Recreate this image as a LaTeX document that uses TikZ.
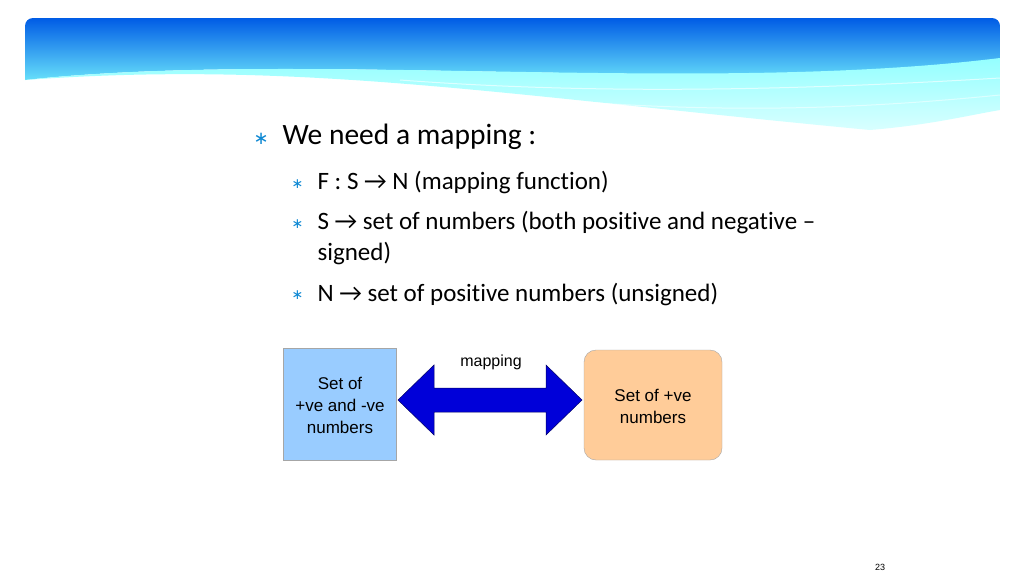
\documentclass[tikz,border=0pt]{standalone}
\usepackage{fontspec}
\setmainfont[Ligatures=NoCommon]{Carlito}
\newfontfamily\arial{Liberation Sans}
\newfontfamily\dv{DejaVu Sans}
\definecolor{lb}{HTML}{99CCFF}
\definecolor{lo}{HTML}{FFCC99}
\begin{document}
\begin{tikzpicture}[x=1pt,y=-1pt]
\tikzset{bul/.style={anchor=west,text=cyan!70!blue,font=\dv},
 txt/.style={anchor=west,font=\fontsize{25}{28}\selectfont},
 boxtxt/.style={font=\arial\fontsize{17}{22}\selectfont,align=center}}
\useasboundingbox (0,0) rectangle (1024,576);
\fill[white] (0,0) rectangle (1024,576);
% header
\shade[top color=blue!60!cyan!90!black, bottom color=cyan!50] (25,30) [rounded corners=8pt] -- (25,18) -- (1000,18) [sharp corners] -- (1000,60) .. controls (700,95) and (300,50) .. (25,80) -- cycle;
\shade[top color=cyan!45, bottom color=cyan!15] (1000,58) .. controls (700,95) and (300,50) .. (25,80) .. controls (300,60) and (500,95) .. (870,130) .. controls (930,125) and (970,115) .. (1000,110) -- cycle;
\draw[white,opacity=0.6,line width=1pt] (400,80) .. controls (600,95) and (800,90) .. (1000,78);
\draw[white,opacity=0.5,line width=1pt] (500,95) .. controls (700,115) and (850,110) .. (1000,95);
% bullets
\node[bul,font=\dv\fontsize{18}{20}\selectfont] (b1) at (250,139) {∗};
\node[txt,font=\fontsize{29.5}{34}\selectfont] (t1) at (279,137) {We need a mapping :};
\node[bul,font=\dv\fontsize{14}{16}\selectfont] (b2) at (288,184) {∗};
\node[txt] (t2) at (314,183) {F : S → N (mapping function)};
\node[bul,font=\dv\fontsize{14}{16}\selectfont] (b3) at (288,224) {∗};
\node[txt] (t3) at (314,223) {S → set of numbers (both positive and negative –};
\node[txt] (t3b) at (314,253) {signed)};
\node[bul,font=\dv\fontsize{14}{16}\selectfont] (b4) at (288,295) {∗};
\node[txt] (t4) at (314,294) {N → set of positive numbers (unsigned)};
% boxes
\fill[lb] (283,348) rectangle (396,460);
\draw[gray!70] (283,348) rectangle (396,460);
\node[boxtxt] (L) at (340,405) {Set of\\+ve and -ve\\numbers};
\filldraw[fill=lo,draw=gray!70,rounded corners=12pt] (584,350) rectangle (722,460);
\node[boxtxt] (R) at (653,406) {Set of +ve\\numbers};
% arrow
\filldraw[fill=blue!85!black,draw=blue!40!black,line width=0.5pt] (398,400) -- (434,365) -- (434,388) -- (546,388) -- (546,365) -- (582,400) -- (546,435) -- (546,412) -- (434,412) -- (434,435) -- cycle;
\node[font=\arial\fontsize{16}{20}\selectfont] (m) at (491,362) {mapping};
\node[font=\arial\fontsize{9}{11}\selectfont] (pn) at (880,567) {23};
\end{tikzpicture}
\end{document}
